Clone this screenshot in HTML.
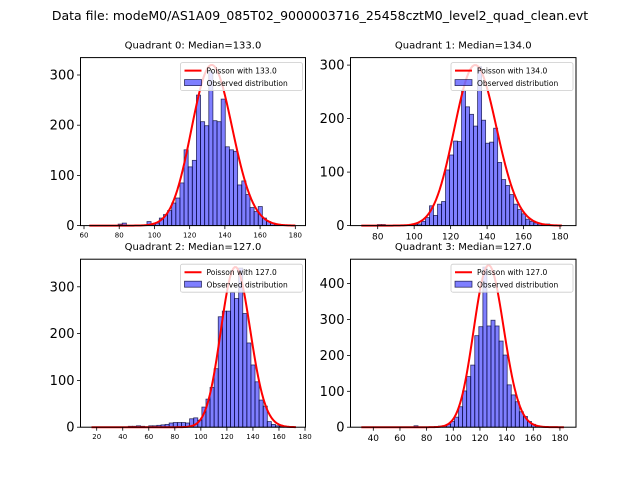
<!DOCTYPE html>
<html><head><meta charset="utf-8"><style>
html,body{margin:0;padding:0;background:#fff;}
svg{display:block;font-family:"DejaVu Sans","Liberation Sans",sans-serif;}
</style></head><body>
<svg id="fig" width="640" height="480" viewBox="0 0 640 480">
<text x="320" y="20" text-anchor="middle" font-size="12.5">Data file: modeM0/AS1A09_085T02_9000003716_25458cztM0_level2_quad_clean.evt</text>
</svg>
<script>
// ---- data ----
const medians = [133.0, 134.0, 127.0, 127.0];
const binMin = [63, 71, 16, 31];
const binMax = [180, 181, 173, 183];
const curvePeak = [320, 300, 342, 451];
const counts0 = [0,0,0,0,0,0,0,3,5,0,0,0,0,0,8,3,5,15,22,30,45,55,85,151,117,130,260,207,199,307,209,207,252,157,151,148,81,89,62,36,28,38,15,8,5,3,2,1,0,0];
const counts1 = [0,0,0,0,2,2,0,0,1,1,0,1,1,2,3,8,15,37,19,40,45,104,132,158,157,253,222,208,186,297,197,154,156,182,118,86,75,58,40,30,22,12,8,5,3,2,3,1,0,0];
const counts2 = [0,0,0,0,0,0,0,0,0,2,2,3,2,1,3,3,4,5,6,9,10,10,10,9,18,20,15,43,60,85,125,236,248,248,288,275,340,243,180,133,97,58,45,12,6,3,2,1,1,0];
const counts3 = [0,0,0,0,0,0,0,0,0,0,0,0,0,4,0,0,0,0,2,3,4,8,16,28,57,101,141,173,255,280,446,282,298,282,240,201,118,90,71,43,30,16,8,3,2,1,0,0,0,0];
const xTicks0 = [60,80,100,120,140,160,180];
const xTicks1 = [80,100,120,140,160,180];
const xTicks2 = [20,40,60,80,100,120,140,160,180];
const xTicks3 = [40,60,80,100,120,140,160,180];
const yTicks0 = [0,100,200,300];
const yTicks1 = [0,100,200,300];
const yTicks2 = [0,100,200,300];
const yTicks3 = [0,100,200,300,400];

// ---- layout (pixel calibration, not data) ----
const panels = [
 {L:80.5,R:305.5,T:57.6,B:225.6, x0:60,x0px:84,xs:1.761, ys:0.502, xfs:7, counts:counts0, xt:xTicks0, yt:yTicks0},
 {L:350.5,R:576,T:57.6,B:225.6, x0:80,x0px:377.7,xs:1.823, ys:0.535, xfs:9, counts:counts1, xt:xTicks1, yt:yTicks1},
 {L:80.5,R:305.5,T:259.2,B:427.2, x0:20,x0px:96.7,xs:1.302, ys:0.468, xfs:7, counts:counts2, xt:xTicks2, yt:yTicks2},
 {L:350.5,R:576,T:259.2,B:427.2, x0:40,x0px:373.3,xs:1.333, ys:0.359, xfs:9, counts:counts3, xt:xTicks3, yt:yTicks3}
];
const NS="http://www.w3.org/2000/svg";
const svg=document.getElementById('fig');
function mk(tag,attrs,parent){const e=document.createElementNS(NS,tag);for(const k in attrs)e.setAttribute(k,attrs[k]);(parent||svg).appendChild(e);return e;}
function lgamma(n){
  if(n<8){let p=1;for(let i=2;i<n;i++)p*=i;return Math.log(p);}
  return (n-0.5)*Math.log(n)-n+0.5*Math.log(2*Math.PI)+1/(12*n)-1/(360*n*n*n);
}
panels.forEach((p,q)=>{
  const g=mk('g',{});
  
  
  const X=v=>p.x0px+(v-p.x0)*p.xs;
  const Y=v=>p.B-v*p.ys;
  const bw=(binMax[q]-binMin[q])/p.counts.length;
  p.counts.forEach((c,i)=>{
    if(c<=0)return;
    const x1=X(binMin[q]+i*bw),x2=X(binMin[q]+(i+1)*bw);
    const r=mk('rect',{x:x1,y:Y(c),width:x2-x1,height:p.B-Y(c),fill:'rgba(0,0,255,0.5)',stroke:'rgba(0,0,50,0.75)','stroke-width':0.8},g);
    
    
  });
  const lam=medians[q];
  const lpk=Math.floor(lam)*Math.log(lam)-lam-lgamma(Math.floor(lam)+1);
  let d='';
  for(let k=binMin[q];k<=binMax[q];k++){
    const lp=k*Math.log(lam)-lam-lgamma(k+1);
    const v=curvePeak[q]*Math.exp(lp-lpk);
    d+=(d?'L':'M')+X(k).toFixed(2)+','+Y(v).toFixed(2);
  }
  const cv=mk('path',{d:d,fill:'none',stroke:'#ff0000','stroke-width':2},g);
  
  
  const fr=mk('rect',{x:p.L,y:p.T,width:p.R-p.L,height:p.B-p.T,fill:'none',stroke:'#000','stroke-width':1},g);
  
  
  p.xt.forEach(t=>{
    const x=X(t);
    mk('line',{x1:x,x2:x,y1:p.B,y2:p.B+3.5,stroke:'#000','stroke-width':0.8},g);
    const tx=mk('text',{x:x,y:p.B+5+p.xfs,'font-size':p.xfs,'text-anchor':'middle'},g);
    tx.textContent=t;
    
    
  });
  p.yt.forEach(t=>{
    const y=Y(t);
    mk('line',{x1:p.L-3.5,x2:p.L,y1:y,y2:y,stroke:'#000','stroke-width':0.8},g);
    const tx=mk('text',{x:p.L-6,y:y+4.5,'font-size':13,'text-anchor':'end'},g);
    tx.textContent=t;
    
    
  });
  const ti=mk('text',{x:(p.L+p.R)/2,y:p.T-9,'font-size':10,'text-anchor':'middle'},g);
  ti.textContent='Quadrant '+q+': Median='+medians[q].toFixed(1);
  
  
  const lx=p.R-125, ly=p.T+5;
  const lg=mk('g',{},g);
  
  
  mk('rect',{x:lx,y:ly,width:122,height:28,rx:2,fill:'rgba(255,255,255,0.8)',stroke:'#ccc','stroke-width':0.8},lg);
  mk('line',{x1:lx+4,x2:lx+21,y1:ly+8,y2:ly+8,stroke:'#ff0000','stroke-width':2},lg);
  const t1=mk('text',{x:lx+26,y:ly+11,'font-size':7.5},lg);
  t1.textContent='Poisson with '+medians[q].toFixed(1);
  
  
  mk('rect',{x:lx+4,y:ly+17,width:17,height:6,fill:'rgba(0,0,255,0.5)',stroke:'rgba(0,0,50,0.75)','stroke-width':0.8},lg);
  const t2=mk('text',{x:lx+26,y:ly+23.5,'font-size':7.5},lg);
  t2.textContent='Observed distribution';
  
  
});
</script>
</body></html>
